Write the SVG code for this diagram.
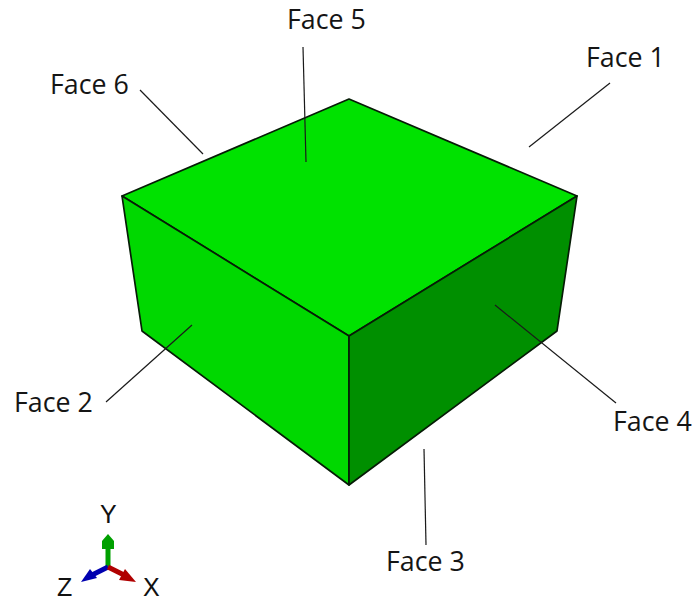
<svg xmlns="http://www.w3.org/2000/svg" width="694" height="602" viewBox="0 0 694 602">
<style>
.f{stroke:#061c06;stroke-width:1.7;stroke-linejoin:round}
.l{stroke:#1a1a1a;stroke-width:1.2;fill:none}
text{font-family:"Open Sans","Noto Sans",sans-serif;font-size:26.8px;fill:#151515}
.a{font-family:"Liberation Sans",Arial,sans-serif;font-size:25px;fill:#111}
</style>
<rect width="694" height="602" fill="#fff"/>
<g id="box">
<polygon class="f" points="122,196 349,99 577,196 349,336" fill="#00e200"/>
<polygon class="f" points="122,196 349,336 349,485 142,331" fill="#00d800"/>
<polygon class="f" points="349,336 577,196 557,331 349,485" fill="#008f00"/>
</g>
<g id="connectors">
<line class="l" x1="529" y1="147" x2="610" y2="83"/>
<line class="l" x1="203" y1="154" x2="140" y2="90"/>
<line class="l" x1="306" y1="162" x2="303" y2="47"/>
<line class="l" x1="192" y1="325" x2="106" y2="402"/>
<line class="l" x1="495" y1="305" x2="616" y2="403"/>
<line class="l" x1="424" y1="449" x2="426" y2="545"/>
</g>
<g id="labels">
<text x="586" y="67">Face 1</text>
<text x="14" y="412">Face 2</text>
<text x="386" y="571">Face 3</text>
<text x="613" y="431">Face 4</text>
<text x="287" y="29">Face 5</text>
<text x="50" y="94">Face 6</text>
</g>
<g id="triad">
<line x1="108" y1="567" x2="108" y2="545" stroke="#00a000" stroke-width="5"/>
<polygon points="108,534 102,541 102,549 114,549 114,541" fill="#00a000"/>
<line x1="108" y1="567" x2="92" y2="575" stroke="#0000b0" stroke-width="5"/>
<polygon points="81,582 90,569 97,578" fill="#0000b0"/>
<line x1="108" y1="567" x2="124" y2="575" stroke="#b00000" stroke-width="5"/>
<polygon points="136,582 119,580 125,569" fill="#b00000"/>
<text class="a" x="100" y="523">Y</text>
<text class="a" x="143" y="596">X</text>
<text class="a" x="57" y="596">Z</text>
</g>
</svg>
